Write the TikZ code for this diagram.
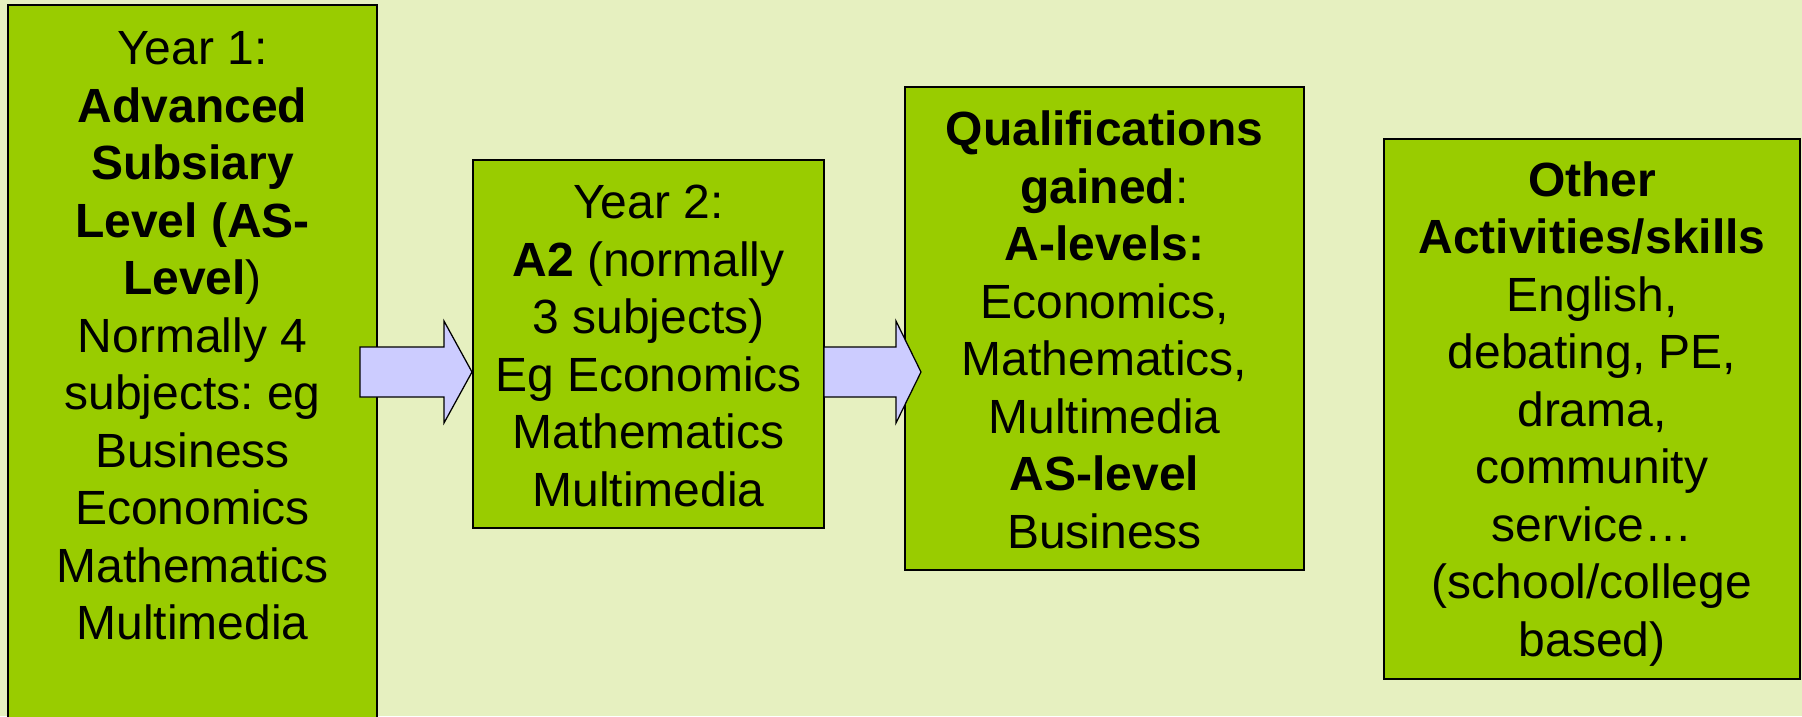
\documentclass[tikz,border=0pt]{standalone}
\usepackage{fontspec}
\setmainfont{Liberation Sans}
\frenchspacing
\definecolor{bgc}{HTML}{E6F0C0}
\definecolor{boxc}{HTML}{99CC00}
\definecolor{arrc}{HTML}{CCCCFF}
\tikzset{
  boxrect/.style={draw=black,fill=boxc,line width=0.8pt},
  boxtext/.style={align=center,inner sep=0pt,font=\frenchspacing\fontsize{19.2pt}{23pt}\selectfont},
  blockarrow/.style={draw=black,fill=arrc,line width=0.5pt,line join=miter}
}
\begin{document}
\begin{tikzpicture}[x=0.4pt,y=-0.4pt]
\useasboundingbox (0,0) rectangle (1802,716);
\clip (0,0) rectangle (1802,716);
\fill[bgc] (0,0) rectangle (1802,716);
% boxes
\draw[boxrect] (8,5) rectangle (377,760);
\draw[boxrect] (473,160) rectangle (824,528);
\draw[boxrect] (905,87) rectangle (1304,570);
\draw[boxrect] (1384,139) rectangle (1800,679);
% texts
\node[boxtext] (y1) at (192.5,336) {Year 1:\\\textbf{Advanced}\\\textbf{Subsiary}\\\textbf{Level (AS-}\\\textbf{Level})\\Normally 4\\subjects: eg\\Business\\Economics\\Mathematics\\Multimedia};
\node[boxtext] (y2) at (648.5,346) {Year 2:\\\textbf{A2} (normally\\3 subjects)\\Eg Economics\\Mathematics\\Multimedia};
\node[boxtext] (q) at (1104.5,330) {\textbf{Qualifications}\\\textbf{gained}:\\\textbf{A-levels:}\\Economics,\\Mathematics,\\Multimedia\\\textbf{AS-level}\\Business};
\node[boxtext] (o) at (1592,414) {\textbf{Other}\\\textbf{Activities/skills}\\English,\\debating, PE,\\drama,\\community\\service…\\(school/college\\based)};
% block arrows
\draw[blockarrow] (360,347) -- (444,347) -- (444,321) -- (472,372) -- (444,423) -- (444,397) -- (360,397) -- cycle;
\draw[blockarrow] (824,347) -- (896,347) -- (896,321) -- (921,372) -- (896,423) -- (896,397) -- (824,397) -- cycle;
\end{tikzpicture}
\end{document}
